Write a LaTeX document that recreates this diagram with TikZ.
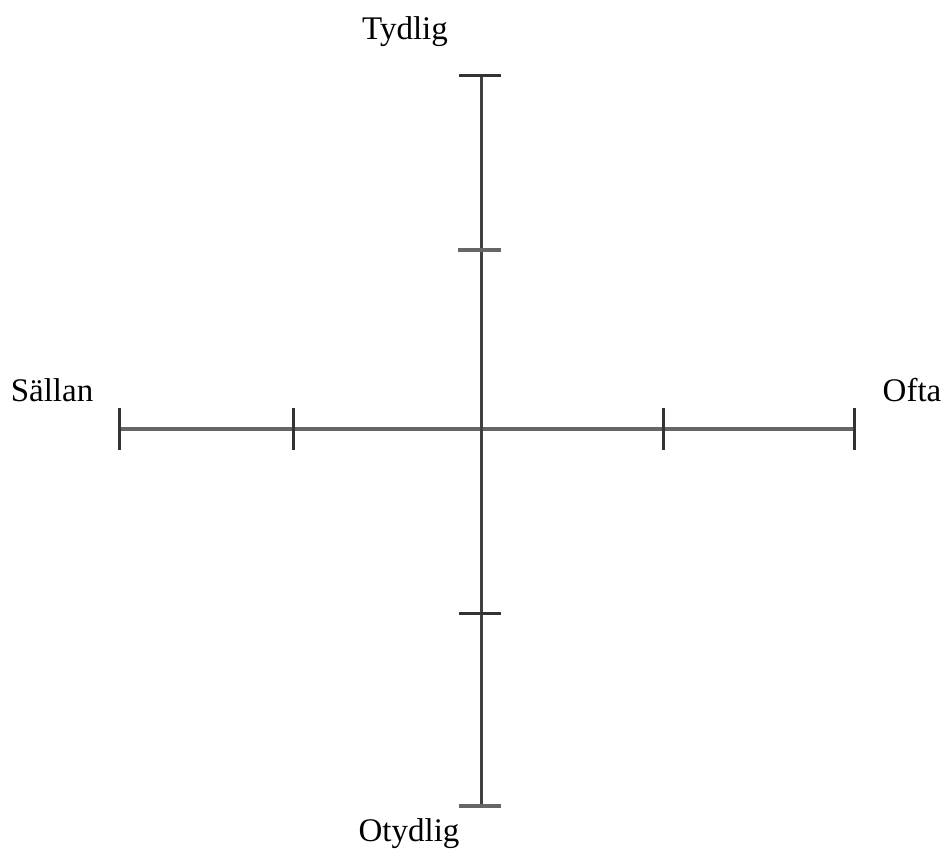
\documentclass[tikz,border=0pt]{standalone}
\usepackage{fontspec}
\setmainfont{Liberation Serif}
\begin{document}
\begin{tikzpicture}[x=1pt,y=-1pt,
  axisv/.style={draw=black!75,line width=3pt},
  axish/.style={draw=black!60,line width=4pt},
  tickdark/.style={draw=black!80,line width=3pt},
  ticklight/.style={draw=black!60,line width=4pt},
  lbl/.style={font=\fontsize{33}{38}\selectfont,anchor=base,inner sep=0pt}]
\useasboundingbox[fill=white] (0,0) rectangle (947,852);
% coordinates
\coordinate (top) at (481,75);
\coordinate (bot) at (481,806);
\coordinate (lef) at (119,429);
\coordinate (rig) at (854,429);
% axes
\draw[axish] (lef) -- (rig);
\draw[axisv] (top) -- (bot);
% vertical axis ticks
\draw[tickdark] (459,75) -- (501,75);
\draw[ticklight] (458,250) -- (501,250);
\draw[tickdark] (459,613) -- (501,613);
\draw[ticklight] (459,806) -- (501,806);
% horizontal axis ticks
\draw[tickdark] (119,408) -- (119,450);
\draw[tickdark] (293,408) -- (293,450);
\draw[tickdark] (663,408) -- (663,450);
\draw[tickdark] (854,408) -- (854,450);
% labels
\node[lbl] (tydlig) at (405,39) {Tydlig};
\node[lbl] (sallan) at (52,401) {Sällan};
\node[lbl] (ofta) at (912,401) {Ofta};
\node[lbl] (otydlig) at (409,841) {Otydlig};
\end{tikzpicture}
\end{document}
